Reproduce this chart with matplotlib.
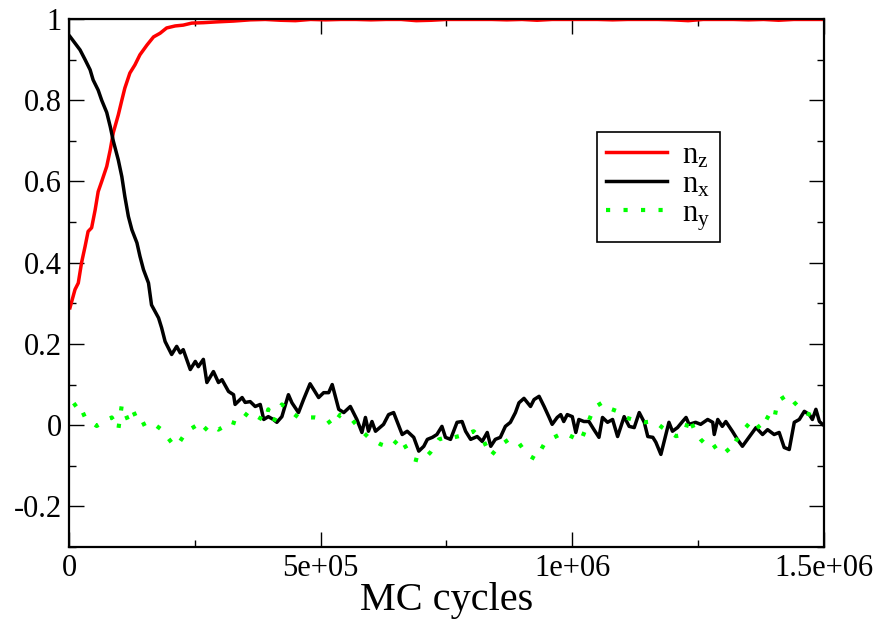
import numpy as np
import matplotlib
matplotlib.use("Agg")
import matplotlib.pyplot as plt

# MC-Zyklen (in Tausend) und Ordnungsparameter
t_z = [2, 12, 18.5, 25, 32, 38, 45, 52, 58, 65, 75, 82, 88, 98, 105, 111, 121,
       131, 141, 155, 168, 181, 194, 211, 227, 244, 267, 294, 327, 360, 390,
       420, 450, 480, 510, 540, 570, 600, 630, 660, 690, 720, 750, 780, 810,
       840, 870, 900, 930, 960, 990, 1020, 1050, 1080, 1110, 1140, 1170, 1200,
       1230, 1260, 1290, 1320, 1350, 1380, 1410, 1440, 1470, 1500]
n_z = [0.289, 0.334, 0.35, 0.40, 0.44, 0.477, 0.486, 0.53, 0.575, 0.60, 0.637,
       0.678, 0.72, 0.764, 0.80, 0.83, 0.867, 0.887, 0.912, 0.936, 0.956, 0.965,
       0.978, 0.983, 0.985, 0.99, 0.991, 0.993, 0.995, 0.998, 0.999, 0.997,
       0.996, 0.999, 0.998, 0.999, 0.999, 0.998, 0.999, 0.999, 0.996, 0.997,
       0.999, 0.999, 0.999, 0.999, 0.998, 0.999, 0.997, 0.999, 0.999, 0.999,
       0.999, 0.998, 0.999, 0.999, 0.999, 0.998, 0.996, 0.999, 0.999, 0.999,
       0.998, 0.999, 0.997, 0.999, 0.999, 0.999]

t_x = [2, 22, 32, 42, 48, 58, 65, 75, 82, 88,
       98, 105, 111, 118, 125, 135, 141, 148, 158, 164,
       178, 184, 191, 204, 214, 221, 227, 241, 251, 257,
       267, 274, 287, 297, 304, 317, 327, 330, 344, 350,
       360, 370, 380, 387, 396, 406, 413, 423, 436, 443,
       456, 466, 479, 496, 506, 516, 523, 536, 546, 559,
       572, 582, 589, 595, 602, 609, 625, 635, 645, 652,
       662, 672, 685, 695, 705, 712, 722, 731, 741, 748,
       758, 771, 781, 788, 798, 811, 821, 831, 838, 847,
       857, 867, 877, 887, 894, 904, 917, 924, 934, 944,
       954, 960, 970, 977, 983, 990, 1000, 1007, 1013, 1023,
       1033, 1043, 1053, 1060, 1070, 1080, 1090, 1103, 1113, 1123,
       1133, 1143, 1150, 1160, 1166, 1176, 1186, 1192, 1199, 1209,
       1219, 1226, 1232, 1245, 1255, 1269, 1279, 1282, 1289, 1298,
       1305, 1318, 1328, 1338, 1352, 1365, 1378, 1388, 1401, 1411,
       1421, 1431, 1441, 1451, 1461, 1471, 1477, 1484, 1491, 1497]
n_x = [0.957, 0.924, 0.90, 0.875, 0.85, 0.825, 0.80, 0.77, 0.735, 0.70,
       0.653, 0.612, 0.563, 0.514, 0.481, 0.449, 0.416, 0.383, 0.35, 0.296,
       0.264, 0.24, 0.206, 0.174, 0.194, 0.178, 0.186, 0.137, 0.157, 0.144,
       0.162, 0.105, 0.132, 0.105, 0.112, 0.083, 0.075, 0.051, 0.068, 0.056,
       0.058, 0.046, 0.051, 0.014, 0.021, 0.014, 0.007, 0.021, 0.075, 0.055,
       0.031, 0.063, 0.102, 0.068, 0.08, 0.08, 0.10, 0.039, 0.031, 0.046,
       0.014, -0.018, 0.019, -0.015, 0.009, -0.015, 0.002, 0.026, 0.031, 0.009,
       -0.023, -0.015, -0.03, -0.064, -0.052, -0.035, -0.03, -0.023, -0.003, -0.03,
       -0.035, 0.007, 0.009, -0.015, -0.035, -0.028, -0.04, -0.018, -0.052, -0.035,
       -0.03, -0.003, 0.007, 0.031, 0.055, 0.066, 0.046, 0.063, 0.071, 0.046,
       0.019, 0.002, 0.019, 0.026, 0.009, 0.026, 0.021, -0.018, 0.014, 0.009,
       0.009, -0.011, -0.03, 0.019, 0.007, 0.014, -0.028, 0.021, -0.003, -0.006,
       0.031, 0.007, -0.028, -0.03, -0.042, -0.072, -0.023, 0.007, -0.015, -0.006,
       0.009, 0.019, 0.002, 0.007, 0.002, 0.014, 0.007, -0.023, 0.014, -0.003,
       0.009, -0.015, -0.035, -0.052, -0.028, -0.006, -0.023, -0.011, -0.023, -0.018,
       -0.055, -0.06, 0.007, 0.014, 0.034, 0.026, 0.014, 0.039, 0.009, 0.002]

t_y = [8.6, 18.5, 32, 55, 85, 98, 105, 118, 128, 141,
       161, 184, 204, 214, 234, 257, 267, 280, 297, 310,
       317, 337, 357, 377, 390, 396, 406, 423, 440, 456,
       489, 513, 523, 539, 562, 579, 595, 619, 639, 658,
       675, 685, 701, 718, 735, 758, 765, 788, 804, 824,
       838, 854, 874, 891, 910, 927, 944, 964, 983, 997,
       1017, 1043, 1060, 1070, 1090, 1106, 1129, 1143, 1163, 1179,
       1206, 1222, 1232, 1245, 1255, 1275, 1295, 1312, 1325, 1341,
       1358, 1375, 1391, 1401, 1408, 1428, 1441, 1461, 1481, 1497]
n_y = [0.047, 0.056, 0.019, -0.002, 0.019, -0.011, 0.05, 0.01, 0.034, -0.002,
       0.01, -0.011, -0.043, -0.052, -0.015, 0.002, -0.015, 0.002, -0.011, -0.002,
       0.01, 0.002, 0.034, 0.019, 0.01, 0.039, 0.007, 0.051, 0.034, 0.019,
       0.019, 0.014, -0.002, 0.026, 0.014, -0.011, -0.03, -0.047, -0.055, -0.03,
       -0.067, -0.084, -0.089, -0.067, -0.035, -0.027, -0.03, -0.023, -0.015, -0.039,
       -0.076, -0.052, -0.035, -0.039, -0.072, -0.084, -0.047, -0.03, -0.018, -0.027,
       -0.039, 0.043, 0.056, 0.043, 0.034, 0.019, 0.01, 0.007, 0.01, -0.006,
       -0.027, -0.023, 0.019, -0.018, -0.035, -0.06, -0.043, -0.067, -0.039, -0.011,
       0.014, -0.011, 0.026, 0.014, 0.059, 0.075, 0.056, 0.031, 0.022, 0.034]

x_ticks = [0, 5e5, 1e6, 1.5e6]
x_tick_labels = ["0", "5e+05", "1e+06", "1.5e+06"]
y_ticks = [-0.2, 0, 0.2, 0.4, 0.6, 0.8, 1.0]
y_tick_labels = ["-0.2", "0", "0.2", "0.4", "0.6", "0.8", "1"]

plt.rcParams['font.family'] = ['Liberation Serif', 'DejaVu Serif']
plt.rcParams['mathtext.fontset'] = 'custom'
plt.rcParams['mathtext.rm'] = 'Liberation Serif'

fig = plt.figure(figsize=(8.82, 6.26), dpi=100)
ax = fig.add_axes([0.0782, 0.1262, 0.856, 0.8434])

ax.plot(np.array(t_z) * 1e3, n_z, color='#ff0000', lw=2.5, label=r'$\mathregular{n_z}$')
ax.plot(np.array(t_x) * 1e3, n_x, color='black', lw=2.5, label=r'$\mathregular{n_x}$')
ax.plot(np.array(t_y) * 1e3, n_y, color='#00ff00', lw=3.0,
        linestyle=(0, (1.0, 3.2)), label=r'$\mathregular{n_y}$')

ax.set_xlim(0, 1.5e6)
ax.set_ylim(-0.3, 1.0)
ax.set_xticks(x_ticks)
ax.set_xticklabels(x_tick_labels)
ax.set_yticks(y_ticks)
ax.set_yticklabels(y_tick_labels)
ax.set_xticks([2.5e5, 7.5e5, 1.25e6], minor=True)
ax.set_yticks(np.arange(-0.3, 1.0, 0.1), minor=True)

ax.tick_params(which='both', direction='in', top=True, right=True,
               labelsize=22, width=1.0, pad=5)
ax.tick_params(which='major', length=10.5)
ax.tick_params(which='minor', length=5)
for sp in ax.spines.values():
    sp.set_linewidth(1.6)

ax.set_xlabel('MC cycles', fontsize=29, labelpad=-1)

leg = ax.legend(loc='upper left', bbox_to_anchor=(0.699, 0.786), borderaxespad=0,
                fontsize=22, frameon=True, fancybox=False, framealpha=1,
                edgecolor='black', handlelength=2.0, handletextpad=0.5,
                labelspacing=0.0, borderpad=0.3)
leg.get_frame().set_linewidth(1.2)

fig.savefig('out.png', dpi=100)
